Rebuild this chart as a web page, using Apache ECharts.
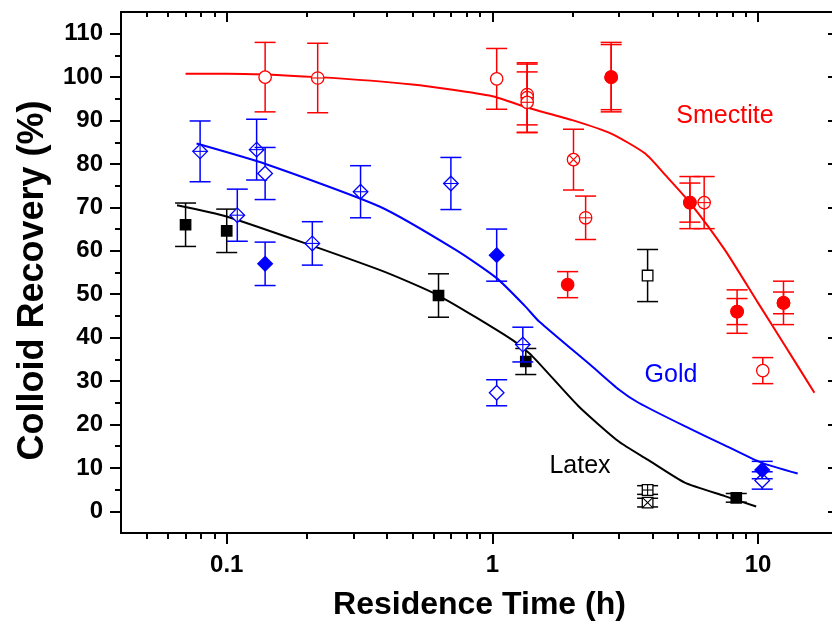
<!DOCTYPE html>
<html>
<head>
<meta charset="utf-8">
<script src="https://cdn.jsdelivr.net/npm/echarts@6/dist/echarts.min.js"></script>
<style>
html,body{margin:0;padding:0;background:#fff;overflow:hidden;}
#chart{width:832px;height:629px;}
</style>
</head>
<body>
<div id="chart"></div>
<script>
// ---- data: [residence time (h), recovery (%), error (+/-)] ----
const latexSquareFilled = [[0.07,66,5],[0.1,64.6,5],[0.627,49.7,5],[1.336,34.5,3],[8.28,3.1,1]];
const latexSquareOpen   = [[3.84,54.3,6]];
const latexSquarePlus   = [[3.84,4.9,1]];
const latexSquareCross  = [[3.84,2.0,1]];

const goldDiamondPlus   = [[0.0794,82.9,7],[0.1296,83.3,7],[0.1096,68.2,6],[0.21,61.7,5],[0.319,73.6,6],[0.698,75.5,6],[1.302,38.4,4]];
const goldDiamondOpen   = [[0.1395,77.8,6],[1.038,27.3,3],[10.37,7.1,2]];
const goldDiamondFilled = [[0.1395,57,5],[1.038,59,6],[10.37,9.5,2]];

const smecCircleOpen    = [[0.1395,100,8],[1.038,99.6,7],[10.42,32.4,3]];
const smecCirclePlus    = [[0.22,99.8,8],[1.352,96.0,7],[1.352,95.3,8],[1.352,94.2,7],[2.244,67.6,5],[6.27,71.1,6]];
const smecCircleCross   = [[2.02,81.0,7]];
const smecCircleFilled  = [[2.8,100,8],[2.8,100,7.5],[1.92,52.2,3],[5.54,71.1,6],[5.54,71.1,4.5],[8.34,46.0,5],[8.34,46.0,3],[12.47,48,5],[12.47,48,2.5]];

// ---- model fit curves ----
const smectiteFit = [[0.07,100.8],[0.1,100.8],[0.22,100.0],[0.5,98.3],[1,95.6],[1.35,93.0],[2,90.1],[2.8,87.0],[3.76,82.4],[4.5,77.3],[5.54,71.1],[7.5,60.2],[10,48.0],[12.5,38.6],[16.3,27.3]];
const goldFit     = [[0.077,84.7],[0.14,80.0],[0.376,70.2],[0.728,60.2],[1.038,53.7],[1.33,47.2],[1.5,43.7],[2.37,33.4],[3.0,28.0],[3.55,25.0],[5.3,19.6],[7.5,15.2],[10.28,11.2],[14.1,8.7]];
const latexFit    = [[0.065,70.5],[0.1,67.9],[0.376,55.6],[0.627,49.7],[1.188,39.5],[1.41,35.8],[2.11,24.2],[3.0,16.0],[3.84,11.9],[5.3,6.6],[7.5,3.5],[9.84,1.1]];

// ---- axis ticks ----
const xMajorTicks = [0.1, 1, 10];
const xMinorTicks = [0.05,0.06,0.07,0.08,0.09,0.2,0.3,0.4,0.5,0.6,0.7,0.8,0.9,2,3,4,5,6,7,8,9];
const yMajorTicks = [0,10,20,30,40,50,60,70,80,90,100,110];
const yMinorTicks = [5,15,25,35,45,55,65,75,85,95,105];

const RED = '#ff0000', BLUE = '#0000ff', BLACK = '#000000';
const FONT = 'Liberation Sans, Arial, sans-serif';

function markerSeries(name, data, color, shape, filled, inner) {
  return {
    type: 'custom', name: name, data: data, z: 5,
    xAxisIndex: 0, yAxisIndex: 0,
    encode: {x: 0, y: 1},
    renderItem: function (params, api) {
      const x = api.value(0), y = api.value(1), e = api.value(2);
      const p = api.coord([x, y]);
      const t = api.coord([x, y + e]);
      const b = api.coord([x, y - e]);
      const cap = 10.5;
      const ls = {stroke: color, lineWidth: 1.5};
      const ch = [];
      ch.push({type: 'line', shape: {x1: p[0], y1: t[1], x2: p[0], y2: b[1]}, style: ls});
      ch.push({type: 'line', shape: {x1: p[0]-cap, y1: t[1], x2: p[0]+cap, y2: t[1]}, style: ls});
      ch.push({type: 'line', shape: {x1: p[0]-cap, y1: b[1], x2: p[0]+cap, y2: b[1]}, style: ls});
      const ms = {fill: filled ? color : '#ffffff', stroke: color, lineWidth: 1.3};
      let r;
      if (shape === 'circle') {
        r = 6.2;
        ch.push({type: 'circle', shape: {cx: p[0], cy: p[1], r: r}, style: ms});
      } else if (shape === 'square') {
        r = filled ? 5.2 : 5.3;
        ch.push({type: 'rect', shape: {x: p[0]-r, y: p[1]-r, width: 2*r, height: 2*r}, style: ms});
      } else {
        r = 7.3;
        ch.push({type: 'polygon', shape: {points: [[p[0], p[1]-r],[p[0]+r, p[1]],[p[0], p[1]+r],[p[0]-r, p[1]]]}, style: ms});
      }
      const il = {stroke: color, lineWidth: 1.1};
      if (inner === 'plus') {
        ch.push({type: 'line', shape: {x1: p[0]-r, y1: p[1], x2: p[0]+r, y2: p[1]}, style: il});
        ch.push({type: 'line', shape: {x1: p[0], y1: p[1]-r, x2: p[0], y2: p[1]+r}, style: il});
      } else if (inner === 'cross') {
        const d = shape === 'circle' ? r * 0.707 : r;
        ch.push({type: 'line', shape: {x1: p[0]-d, y1: p[1]-d, x2: p[0]+d, y2: p[1]+d}, style: il});
        ch.push({type: 'line', shape: {x1: p[0]-d, y1: p[1]+d, x2: p[0]+d, y2: p[1]-d}, style: il});
      }
      return {type: 'group', children: ch};
    }
  };
}

function fitSeries(name, data, color) {
  return {
    type: 'line', name: name, data: data, xAxisIndex: 0, yAxisIndex: 0,
    showSymbol: false, smooth: 0.2, z: 3,
    lineStyle: {color: color, width: 2}, itemStyle: {color: color}
  };
}

const X_MIN = 0.04, X_MAX = 20, Y_MIN = -5, Y_MAX = 115;
const lineBlack = {show: true, onZero: false, lineStyle: {color: BLACK, width: 2}};
const lineHidden = {show: false, onZero: false};
const tickStyle = {color: BLACK, width: 2};

function xAx(pos, major, showLine, showLabel) {
  const inside = pos === 'top';
  return {
    type: 'log', logBase: 10, min: X_MIN, max: X_MAX, position: pos, offset: 0,
    axisLine: showLine ? lineBlack : lineHidden,
    axisTick: {show: true, inside: inside, length: major ? (inside ? 10 : 11) : (inside ? 5 : 6),
               lineStyle: tickStyle, customValues: major ? xMajorTicks : xMinorTicks},
    axisLabel: showLabel ? {show: true, customValues: xMajorTicks, fontFamily: FONT, fontWeight: 'bold',
               fontSize: 24, color: BLACK, margin: 20,
               formatter: function (v) { return String(+(+v).toPrecision(3)); }} : {show: false},
    splitLine: {show: false}, minorTick: {show: false}, minorSplitLine: {show: false},
    name: showLabel ? 'Residence Time (h)' : '', nameLocation: 'middle', nameGap: 56,
    nameTextStyle: {fontFamily: FONT, fontWeight: 'bold', fontSize: 32, color: BLACK}
  };
}
function yAx(pos, major, showLine, showLabel) {
  const inside = pos === 'right';
  return {
    type: 'value', min: Y_MIN, max: Y_MAX, position: pos, offset: 0,
    axisLine: showLine ? lineBlack : lineHidden,
    axisTick: {show: true, inside: inside, length: major ? (inside ? 10 : 11) : (inside ? 5 : 6),
               lineStyle: tickStyle, customValues: major ? yMajorTicks : yMinorTicks},
    axisLabel: showLabel ? {show: true, customValues: yMajorTicks, fontFamily: FONT, fontWeight: 'bold',
               fontSize: 24, color: BLACK, margin: 18} : {show: false},
    splitLine: {show: false},
    name: showLabel ? 'Colloid Recovery (%)' : '', nameLocation: 'middle', nameGap: 70, nameRotate: 90,
    nameTextStyle: {fontFamily: FONT, fontWeight: 'bold', fontSize: 36, color: BLACK, padding: [0, 16, 0, 0]}
  };
}

const chart = echarts.init(document.getElementById('chart'), null, {renderer: 'canvas'});
chart.setOption({
  animation: false,
  backgroundColor: '#ffffff',
  grid: {left: 121, width: 717, top: 12, height: 521, containLabel: false, outerBoundsMode: 'none'},
  xAxis: [xAx('bottom', true, true, true), xAx('bottom', false, false, false),
          xAx('top', true, true, false), xAx('top', false, false, false)],
  yAxis: [yAx('left', true, true, true), yAx('left', false, false, false),
          yAx('right', true, true, false), yAx('right', false, false, false)],
  series: [
    fitSeries('Smectite fit', smectiteFit, RED),
    fitSeries('Gold fit', goldFit, BLUE),
    fitSeries('Latex fit', latexFit, BLACK),
    markerSeries('Latex filled', latexSquareFilled, BLACK, 'square', true, null),
    markerSeries('Latex open', latexSquareOpen, BLACK, 'square', false, null),
    markerSeries('Latex plus', latexSquarePlus, BLACK, 'square', false, 'plus'),
    markerSeries('Latex cross', latexSquareCross, BLACK, 'square', false, 'cross'),
    markerSeries('Gold plus', goldDiamondPlus, BLUE, 'diamond', false, 'plus'),
    markerSeries('Gold open', goldDiamondOpen, BLUE, 'diamond', false, null),
    markerSeries('Gold filled', goldDiamondFilled, BLUE, 'diamond', true, null),
    markerSeries('Smectite open', smecCircleOpen, RED, 'circle', false, null),
    markerSeries('Smectite plus', smecCirclePlus, RED, 'circle', false, 'plus'),
    markerSeries('Smectite cross', smecCircleCross, RED, 'circle', false, 'cross'),
    markerSeries('Smectite filled', smecCircleFilled, RED, 'circle', true, null)
  ],
  graphic: [
    {type: 'text', x: 725, y: 116, z: 10, style: {text: 'Smectite', fill: RED, font: '25px ' + FONT, align: 'center', verticalAlign: 'middle'}},
    {type: 'text', x: 671, y: 375, z: 10, style: {text: 'Gold', fill: BLUE, font: '25px ' + FONT, align: 'center', verticalAlign: 'middle'}},
    {type: 'text', x: 580, y: 466, z: 10, style: {text: 'Latex', fill: BLACK, font: '25px ' + FONT, align: 'center', verticalAlign: 'middle'}}
  ]
});
</script>
</body>
</html>
